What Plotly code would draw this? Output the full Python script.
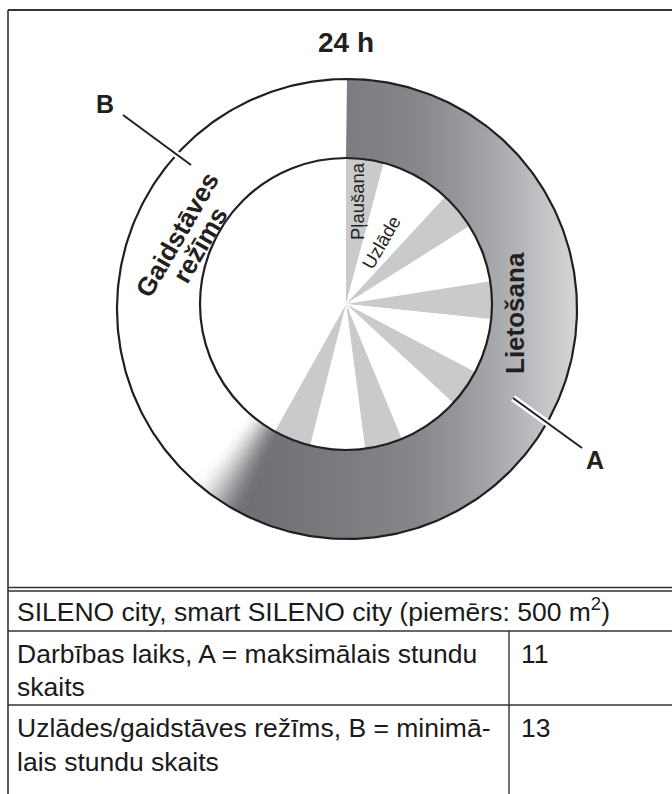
import numpy as np
import plotly.graph_objects as go

# ---- data -------------------------------------------------------------
# outer band of the 24 h dial, in hours measured clockwise from 12 o'clock
band_labels = ["Lietošana", "pāreja", "Gaidstāves režīms"]
band_hours = [13.8, 1.0, 9.2]

# mowing / charging cycle inside the dial (hours, clockwise from the top)
cycle_labels = ["Pļaušana", "Uzlāde", "Pļaušana", "Uzlāde", "Pļaušana", "Uzlāde",
                "Pļaušana", "Uzlāde", "Pļaušana", "Uzlāde", "Pļaušana", "Gaidstāve"]
cycle_hours = [1.0, 1.85, 1.0, 1.55, 1.0, 1.45, 1.0, 1.65, 1.0, 1.45, 1.0, 10.05]

table_header = "SILENO city, smart SILENO city (piemērs: 500 m<sup>2</sup>)"
table_rows = [["Darbības laiks, A = maksimālais stundu", "skaits"],
              ["Uzlādes/gaidstāves režīms, B = minimā-", "lais stundu skaits"]]
table_values = ["11", "13"]

# ---- geometry / style -------------------------------------------------
W, H = 672, 794
INK = "#231f20"
OUT_C, OUT_R = (347.0, 309.0), 230.0
IN_C, IN_R = (346.0, 304.0), 146.0
FONT = "Liberation Sans, Arial, sans-serif"

band_scale = [[0.00, "#6f7074"], [0.30, "#7b7c80"], [0.52, "#87888c"],
              [0.67, "#9b9ca0"], [0.82, "#b4b5b8"], [1.00, "#d6d7d9"]]
GRAD_X0, GRAD_X1 = 250.0, 578.0


def pt(c, r, hour):
    a = np.radians(np.asarray(hour) * 15.0)
    return c[0] + r * np.sin(a), c[1] - r * np.cos(a)


def annulus(h0, h1, n=200):
    hs = np.linspace(h0, h1, n)
    xo, yo = pt(OUT_C, OUT_R, hs)
    xi, yi = pt(IN_C, IN_R, hs[::-1])
    return np.concatenate([xo, xi, xo[:1]]), np.concatenate([yo, yi, yo[:1]])


def mix(c1, c2, t):
    a = np.array([int(c1[i:i + 2], 16) for i in (1, 3, 5)], float)
    b = np.array([int(c2[i:i + 2], 16) for i in (1, 3, 5)], float)
    v = a + (b - a) * t
    return "rgb(%d,%d,%d)" % tuple(np.round(v))


fig = go.Figure()

# dark band with horizontal shading
h_edges = np.concatenate([[0], np.cumsum(band_hours)])
bx, by = annulus(h_edges[0], h_edges[1])
fig.add_trace(go.Scatter(
    x=bx, y=by, mode="lines", line=dict(width=0), fill="toself",
    fillgradient=dict(type="horizontal", colorscale=band_scale,
                      start=GRAD_X0, stop=GRAD_X1),
    hoverinfo="skip", showlegend=False))

# soft tail of the band fading into white
n_fade = 40
f0, f1 = h_edges[1], h_edges[2]
step = (f1 - f0) / n_fade
for k in range(n_fade):
    t = (k + 0.5) / n_fade
    t = t * t * (3 - 2 * t)
    fx, fy = annulus(f0 + k * step - 0.01, f0 + (k + 1) * step + 0.01, n=6)
    fig.add_trace(go.Scatter(
        x=fx, y=fy, mode="lines", line=dict(width=0), fill="toself",
        fillcolor=mix("#717276", "#ffffff", t), hoverinfo="skip", showlegend=False))

# outer rim
th = np.linspace(0, 24, 400)
ox, oy = pt(OUT_C, OUT_R, th)
fig.add_trace(go.Scatter(x=ox, y=oy, mode="lines", line=dict(color=INK, width=2.2),
                         hoverinfo="skip", showlegend=False))

# leader lines (white halo + black stroke)
leaders = {"B": ([123, 191], [115, 165]), "A": ([513, 582], [398, 448])}
for xs, ys in leaders.values():
    fig.add_trace(go.Scatter(x=xs, y=ys, mode="lines", line=dict(color="white", width=7),
                             hoverinfo="skip", showlegend=False))
    fig.add_trace(go.Scatter(x=xs, y=ys, mode="lines", line=dict(color=INK, width=2),
                             hoverinfo="skip", showlegend=False))

# inner dial: mowing / charging wedges
starts = np.concatenate([[0], np.cumsum(cycle_hours)[:-1]])
centers = (starts + np.array(cycle_hours) / 2) * 15.0
widths = np.array(cycle_hours) * 15.0
colors = ["#c9cacc" if lab == "Pļaušana" else "#ffffff" for lab in cycle_labels]
fig.add_trace(go.Barpolar(
    r=[1] * len(cycle_hours), theta=centers, width=widths,
    marker=dict(color=colors, line=dict(width=0)),
    hoverinfo="skip", showlegend=False, subplot="polar"))

fig.update_layout(
    width=W, height=H, margin=dict(l=0, r=0, t=0, b=0),
    paper_bgcolor="white", plot_bgcolor="white",
    xaxis=dict(range=[0, W], visible=False, fixedrange=True),
    yaxis=dict(range=[H, 0], visible=False, fixedrange=True),
    polar=dict(
        domain=dict(x=[(IN_C[0] - IN_R) / W, (IN_C[0] + IN_R) / W],
                    y=[(H - IN_C[1] - IN_R) / H, (H - IN_C[1] + IN_R) / H]),
        bgcolor="rgba(0,0,0,0)", bargap=0,
        angularaxis=dict(direction="clockwise", rotation=90, showticklabels=False,
                         ticks="", showgrid=False, showline=True,
                         linecolor=INK, linewidth=2.2),
        radialaxis=dict(visible=False, range=[0, 1]),
    ),
    showlegend=False,
)

# frame and table rules
rules = [
    (8, 10, W + 2, 10, 2.0), (8, 10, 8, H + 2, 1.6),
    (8, 587.5, W + 2, 587.5, 1.6), (8, 591, W + 2, 591, 1.6),
    (8, 631, W + 2, 631, 1.4), (8, 705, W + 2, 705, 1.4),
    (509, 631, 509, H + 2, 1.4),
]
for x0, y0, x1, y1, w in rules:
    fig.add_shape(type="line", x0=x0, y0=y0, x1=x1, y1=y1, xref="x", yref="y",
                  line=dict(color="#333333", width=w), layer="above")


def label(text, x, y, size, bold=False, angle=0, xanchor="center"):
    fig.add_annotation(
        x=x, y=y, xref="x", yref="y", text=f"<b>{text}</b>" if bold else text,
        showarrow=False, textangle=angle, xanchor=xanchor, yanchor="middle",
        font=dict(family=FONT, size=size, color=INK))


label("24 h", 346, 42, 28, bold=True)
label("B", 105, 104, 25, bold=True)
label("A", 595, 460, 25, bold=True)
label("Gaidstāves", 177, 235, 26, bold=True, angle=-60)
label("režīms", 200, 245, 26, bold=True, angle=-60)
label(band_labels[0], 515, 313, 26, bold=True, angle=-90)
label(cycle_labels[0], 357, 201, 18.5, angle=-90)
label(cycle_labels[1], 381, 242, 18.5, angle=-60)

# table text
TXT = "#1a1a1a"


def cell(text, x, y, size=26.5):
    fig.add_annotation(x=x, y=y, xref="x", yref="y", text=text, showarrow=False,
                       xanchor="left", yanchor="middle",
                       font=dict(family=FONT, size=size, color=TXT))


cell(table_header, 15, 610)
row_y = [(654, 687), (728, 762)]
for (l1, l2), (y1, y2), val in zip(table_rows, row_y, table_values):
    cell(l1, 15, y1)
    cell(l2, 15, y2)
    cell(val, 519, y1)

fig.write_html("out.html")
